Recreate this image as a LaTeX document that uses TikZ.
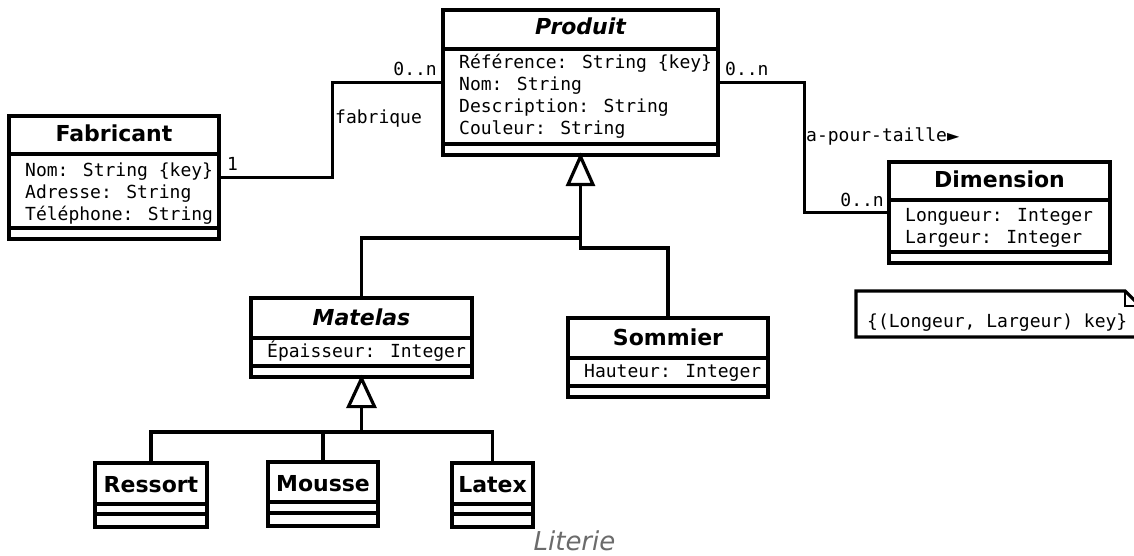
\documentclass[tikz,border=0pt]{standalone}
\usepackage{fontspec}
\setmainfont{DejaVu Sans}[ItalicFont=DejaVu Sans Oblique,BoldFont=DejaVu Sans Bold,BoldItalicFont=DejaVu Sans Bold Oblique]
\newfontfamily\monof{DejaVu Sans Mono}
\newfontfamily\symf{DejaVu Sans}
\definecolor{capgray}{HTML}{6B6B6B}
\begin{document}
\begin{tikzpicture}[x=1pt,y=-1pt,
  box/.style={draw,line width=3.2pt,rectangle,inner sep=0pt,fill=white},
  ttl/.style={font=\fontsize{22}{26}\selectfont\bfseries,anchor=base,inner sep=0pt},
  ttli/.style={font=\fontsize{22}{26}\selectfont\bfseries\itshape,anchor=base,inner sep=0pt},
  attr/.style={font=\monof\fontsize{18}{22}\selectfont,anchor=base west,inner sep=0pt},
  lbl/.style={font=\monof\fontsize{18}{22}\selectfont,inner sep=0pt},
  conn/.style={line width=3.2pt},
  sep/.style={line width=3.2pt},
  gen/.style={line width=3.2pt,fill=white,line join=miter}]
\useasboundingbox (0,0) rectangle (1134,556);

% ---------- Fabricant ----------
\node[box,minimum width=210pt,minimum height=123pt] (fab) at (114,177.5) {};
\draw[sep] (fab.west |- 0,154) -- (fab.east |- 0,154);
\draw[sep] (fab.west |- 0,228) -- (fab.east |- 0,228);
\node[ttl] (fabt) at (114,142) {Fabricant};
\node[attr] (fab1) at (25,176) {Nom: String \{key\}};
\node[attr] (fab2) at (25,198) {Adresse: String};
\node[attr] (fab3) at (25,220) {Téléphone: String};

% ---------- Produit ----------
\node[box,minimum width=275pt,minimum height=145pt] (prod) at (580.5,82.5) {};
\draw[sep] (prod.west |- 0,49) -- (prod.east |- 0,49);
\draw[sep] (prod.west |- 0,144) -- (prod.east |- 0,144);
\node[ttli] (prodt) at (580.5,35) {Produit};
\node[attr] (prod1) at (459,69) {Référence: String \{key\}};
\node[attr] (prod2) at (459,91) {Nom: String};
\node[attr] (prod3) at (459,113) {Description: String};
\node[attr] (prod4) at (459,135) {Couleur: String};

% ---------- Dimension ----------
\node[box,minimum width=221pt,minimum height=101pt] (dim) at (999.5,212.5) {};
\draw[sep] (dim.west |- 0,200) -- (dim.east |- 0,200);
\draw[sep] (dim.west |- 0,252) -- (dim.east |- 0,252);
\node[ttl] (dimt) at (999.5,188) {Dimension};
\node[attr] (dim1) at (905,221) {Longueur: Integer};
\node[attr] (dim2) at (905,243) {Largeur: Integer};

% ---------- Matelas ----------
\node[box,minimum width=221pt,minimum height=79pt] (mat) at (361.5,337.5) {};
\draw[sep] (mat.west |- 0,338) -- (mat.east |- 0,338);
\draw[sep] (mat.west |- 0,366) -- (mat.east |- 0,366);
\node[ttli] (matt) at (361.5,325) {Matelas};
\node[attr] (mat1) at (267,357) {Épaisseur: Integer};

% ---------- Sommier ----------
\node[box,minimum width=200pt,minimum height=79pt] (som) at (668,357.5) {};
\draw[sep] (som.west |- 0,358) -- (som.east |- 0,358);
\draw[sep] (som.west |- 0,386) -- (som.east |- 0,386);
\node[ttl] (somt) at (668,345) {Sommier};
\node[attr] (som1) at (584,377) {Hauteur: Integer};

% ---------- Ressort, Mousse, Latex ----------
\node[box,minimum width=112pt,minimum height=64pt] (res) at (151,495) {};
\draw[sep] (res.west |- 0,504) -- (res.east |- 0,504);
\draw[sep] (res.west |- 0,514) -- (res.east |- 0,514);
\node[ttl] (rest) at (151,492) {Ressort};

\node[box,minimum width=110pt,minimum height=64pt] (mou) at (323,494) {};
\draw[sep] (mou.west |- 0,502) -- (mou.east |- 0,502);
\draw[sep] (mou.west |- 0,513) -- (mou.east |- 0,513);
\node[ttl] (mout) at (323,491) {Mousse};

\node[box,minimum width=81pt,minimum height=64pt] (lat) at (492.5,495) {};
\draw[sep] (lat.west |- 0,504) -- (lat.east |- 0,504);
\draw[sep] (lat.west |- 0,514) -- (lat.east |- 0,514);
\node[ttl] (latt) at (492.5,492) {Latex};

% ---------- Associations ----------
\draw[conn] (fab.east) -- ++(112,0) |- (prod.west);
\node[lbl,anchor=base west] (m1) at (227,171) {1};
\node[lbl,anchor=base east] (m2) at (437,76) {0..n};
\node[lbl,anchor=base west] (afab) at (335,124) {fabrique};

\draw[conn] (prod.east) -- ++(85,0) |- (dim.west);
\node[lbl,anchor=base west] (m3) at (725,76) {0..n};
\node[lbl,anchor=base west] (atai) at (806,142) {a-pour-taille{\symf\fontsize{16}{20}\selectfont ►}};
\node[lbl,anchor=base east] (m4) at (884,207) {0..n};

% ---------- Generalisations ----------
\coordinate (g1) at (580.5,183);
\coordinate (j0) at (580.5,238);
\coordinate (j1) at (580.5,248);
\draw[conn] (g1) -- (j1) -| (som.north);
\draw[conn] (mat.north) |- (j0);
\draw[gen] (prod.south) -- ++(-12.5,28) -- ++(25,0) -- cycle;

\coordinate (g2) at (361.5,405);
\coordinate (j2) at (361.5,432);
\draw[conn] (g2) -- (j2);
\draw[conn] (res.north) |- (lat.north |- j2) -- (lat.north);
\draw[conn] (mou.north) -- (mou.north |- j2);
\draw[gen] (mat.south) -- ++(-13,28) -- ++(26,0) -- cycle;

% ---------- Note ----------
\begin{scope}
\clip (0,0) rectangle (1134,556);
\draw[line width=3.2pt,fill=white] (856,291) -- (1125,291) -- (1140,306) -- (1140,337) -- (856,337) -- cycle;
\draw[line width=2.4pt] (1125,291) -- (1125,306) -- (1140,306);
\end{scope}
\node[lbl,anchor=base west] (note) at (867,327) {\{(Longeur, Largeur) key\}};

% ---------- Caption ----------
\node[font=\fontsize{26}{30}\selectfont\itshape,text=capgray,anchor=base,inner sep=0pt] (cap) at (574.5,550) {Literie};
\end{tikzpicture}
\end{document}
